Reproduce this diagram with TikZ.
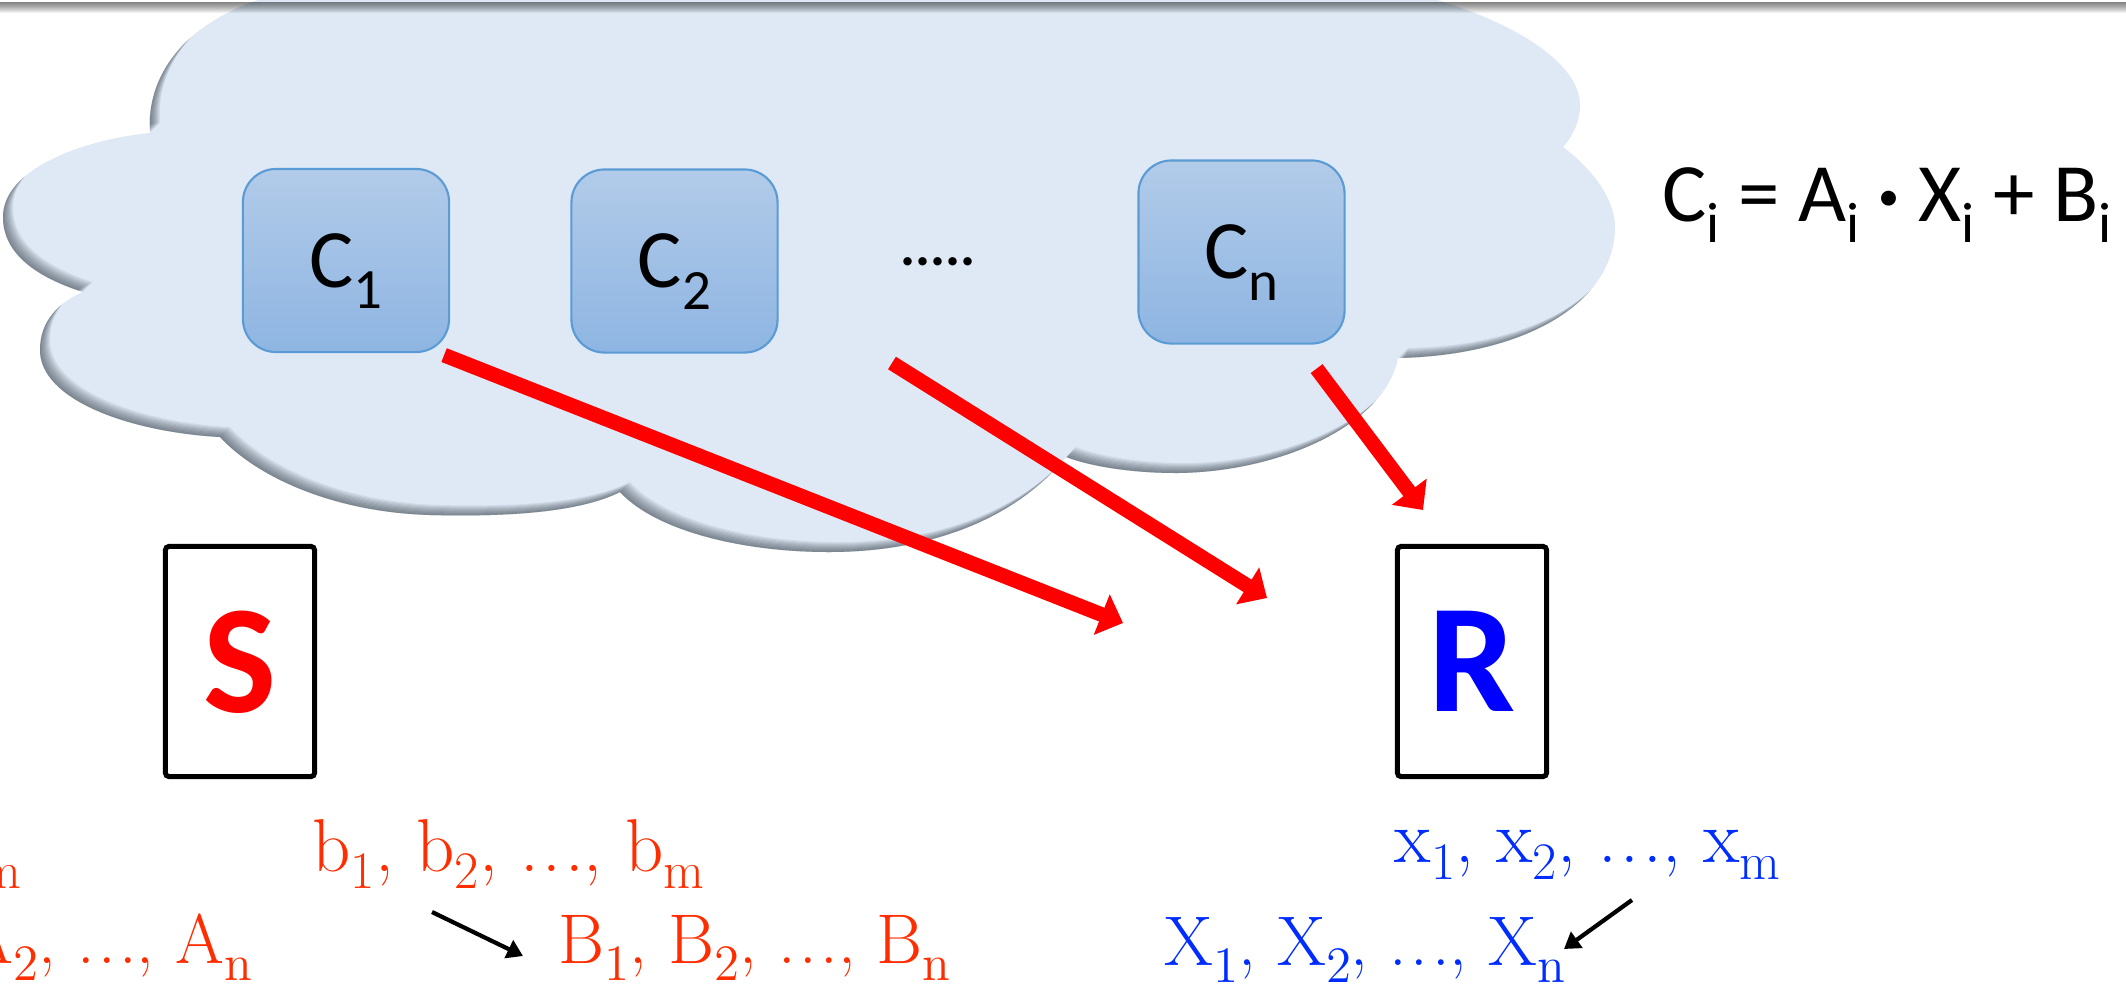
\documentclass[tikz,border=0pt]{standalone}
\usepackage{fontspec}
\newfontfamily\calib{Carlito}
\usetikzlibrary{arrows.meta}
\definecolor{cloudfill}{RGB}{222,233,245}
\definecolor{shadowcol}{RGB}{55,65,75}
\definecolor{boxtop}{RGB}{178,203,233}
\definecolor{boxbot}{RGB}{142,181,226}
\definecolor{boxborder}{RGB}{91,155,213}
\definecolor{tred}{RGB}{255,45,0}
\definecolor{tblue}{RGB}{0,45,255}
\newcommand\csub[1]{\raisebox{-6pt}{\fontsize{16.2}{18}\selectfont #1}}
\newcommand\bsub[1]{\raisebox{-5pt}{\fontsize{15}{17}\selectfont #1}}
\newcommand\usub[1]{\raisebox{-5pt}{\fontsize{14.5}{16}\selectfont #1}}
\newcommand\mdot{\raisebox{3pt}{\fontsize{12}{12}\selectfont •}}
\newcommand\eld{.\hspace{0.05em}.\hspace{0.05em}.}
\def\cloudpath{(150,133) .. controls (146,75) and (185,25) .. (258,0)
 .. controls (400,-60) and (1300,-60) .. (1437,0)
 .. controls (1520,25) and (1580,65) .. (1580,105)
 .. controls (1580,122) and (1572,137) .. (1563,147)
 .. controls (1600,175) and (1615,205) .. (1615,227)
 .. controls (1615,300) and (1530,355) .. (1398,358)
 .. controls (1385,425) and (1280,472) .. (1177,473)
 .. controls (1130,473) and (1090,466) .. (1066,457)
 .. controls (1010,525) and (920,552) .. (829,552)
 .. controls (740,552) and (655,530) .. (620,492)
 .. controls (580,512) and (510,517) .. (430,515)
 .. controls (330,512) and (255,475) .. (220,437)
 .. controls (130,432) and (40,400) .. (40,350)
 .. controls (40,320) and (60,302) .. (83,292)
 .. controls (30,275) and (3,250) .. (3,217)
 .. controls (3,170) and (80,140) .. (150,133) -- cycle}
\begin{document}
\begin{tikzpicture}[x=0.01cm,y=-0.01cm,
  cbox/.style={draw=boxborder, line width=0.6pt, top color=boxtop, bottom color=boxbot,
    rounded corners=0.33cm, minimum width=2.06cm, minimum height=1.83cm, inner sep=0pt,
    text depth=0pt, font=\calib\fontsize{23.6}{28}\selectfont},
  agentbox/.style={draw=black, line width=1.42pt, rounded corners=1pt, minimum width=1.49cm,
    minimum height=2.30cm, inner sep=0pt, text depth=0pt, font=\calib\bfseries\fontsize{44}{50}\selectfont},
  redarrow/.style={draw=red, line width=4.2pt, -{Triangle[length=6.5pt,width=12pt]}},
  blackarrow/.style={draw=black, line width=1.2pt, -{Triangle[length=4.5pt,width=5.5pt]}},
  lowtxt/.style={inner sep=0pt, font=\fontsize{21.3}{24}\selectfont},
  uptxt/.style={inner sep=0pt, font=\fontsize{20}{23}\selectfont}]
\useasboundingbox (0,0) rectangle (2126,987);
\fill[white] (0,0) rectangle (2126,987);
% cloud
\fill[cloudfill] \cloudpath;
\begin{scope}
  \clip \cloudpath;
  \foreach \k in {1,...,10} {
    \fill[shadowcol, opacity=0.08, even odd rule, shift={(\k,-\k)}] (-100,-200) rectangle (2300,1200) \cloudpath;
  }
\end{scope}
% compute boxes
\node[cbox] (c1) at (346,260.5) {C\csub{1}};
\node[cbox] (c2) at (674.5,261) {C\csub{2}};
\node[cbox] (cn) at (1241.5,252) {C\csub{n}};
\node[anchor=base, inner sep=0pt, font=\calib\bfseries\fontsize{16}{18}\selectfont] (dots) at (938,265) {.....};
\node[anchor=base west, inner sep=0pt, font=\calib\fontsize{23.6}{28}\selectfont] (formula) at (1662,221)
  {C\csub{i} = A\csub{i} \mdot{} X\csub{i} + B\csub{i}};
% parties
\node[agentbox, text=red] (s) at (240,661.5) {S};
\node[agentbox, text=blue] (r) at (1472,661.5) {R};
% red arrows
\coordinate (a2s) at (892,363);
\coordinate (t1) at (1123,623);
\coordinate (t2) at (1267,598);
\coordinate (t3) at (1423,510);
\draw[redarrow] ([shift={(-6,2)}]c1.south east) -- (t1);
\draw[redarrow] (a2s) -- (t2);
\draw[redarrow] ([shift={(-29,24)}]cn.south east) -- (t3);
% bottom texts
\node[lowtxt, text=tred, anchor=base east] (al) at (22,871) {a\bsub{1}, a\bsub{2}, \eld, a\bsub{m}};
\node[uptxt, text=tred, anchor=base east] (Al) at (253,963) {A\usub{1}, A\usub{2}, \eld, A\usub{n}};
\node[lowtxt, text=tred, anchor=base west] (bl) at (312,871) {b\bsub{1}, b\bsub{2}, \eld, b\bsub{m}};
\node[uptxt, text=tred, anchor=base west] (Bl) at (558,963) {B\usub{1}, B\usub{2}, \eld, B\usub{n}};
\node[lowtxt, text=tblue, anchor=base west] (xl) at (1394,862) {x\bsub{1}, x\bsub{2}, \eld, x\bsub{m}};
\node[uptxt, text=tblue, anchor=base west] (Xl) at (1164,965) {X\usub{1}, X\usub{2}, \eld, X\usub{n}};
\coordinate (k1s) at (432,912);
\coordinate (k1e) at (523,956);
\coordinate (k2s) at (1632,900);
\coordinate (k2e) at (1564,949);
\draw[blackarrow] (k1s) -- (k1e);
\draw[blackarrow] (k2s) -- (k2e);
% top band
\foreach \h in {1,...,11} {
  \fill[black, opacity=0.055] (0,2) rectangle (2126,2+\h);
}
\end{tikzpicture}
\end{document}
